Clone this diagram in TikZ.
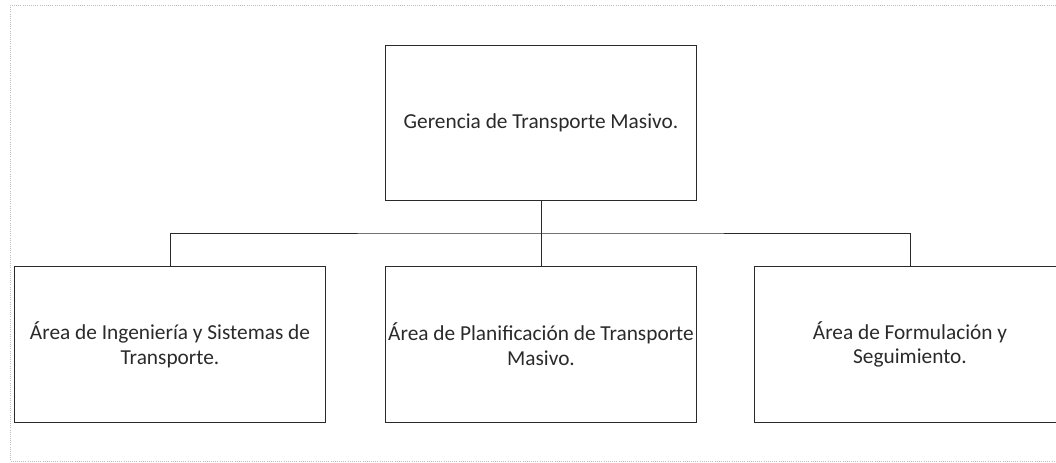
\documentclass[tikz,border=0pt]{standalone}
\usepackage{fontspec}
\setmainfont{Carlito}
\definecolor{ink}{HTML}{2A2A2A}
\definecolor{frame}{HTML}{BDBDBD}
\begin{document}
\begin{tikzpicture}[x=0.75pt,y=-0.75pt,
  unitbox/.style={draw=ink,line width=0.9pt,inner sep=0pt,minimum width=233.5pt,minimum height=116.5pt,
    align=center,text=ink,font=\fontsize{16}{18.5}\selectfont},
  link/.style={draw=ink,line width=0.7pt}]
\useasboundingbox (0,0) rectangle (1056,463);
\clip (0,0) rectangle (1056,463);
\draw[frame,line width=0.6pt,densely dotted] (10,5) rectangle (1070,461);
\node[unitbox] (top) at (541,123) {Gerencia de Transporte Masivo.};
\node[unitbox] (left) at (170,344.5) {Área de Ingeniería y Sistemas de\\Transporte.};
\node[unitbox] (mid) at (541,344.5) {Área de Planificación de Transporte\\Masivo.};
\node[unitbox] (right) at (910,344.5) {Área de Formulación y\\Seguimiento.};
\coordinate (bus) at (541,233);
\draw[link] (top.south) -- (mid.north);
\draw[link] (left.north) |- (bus) -| (right.north);
\end{tikzpicture}
\end{document}
